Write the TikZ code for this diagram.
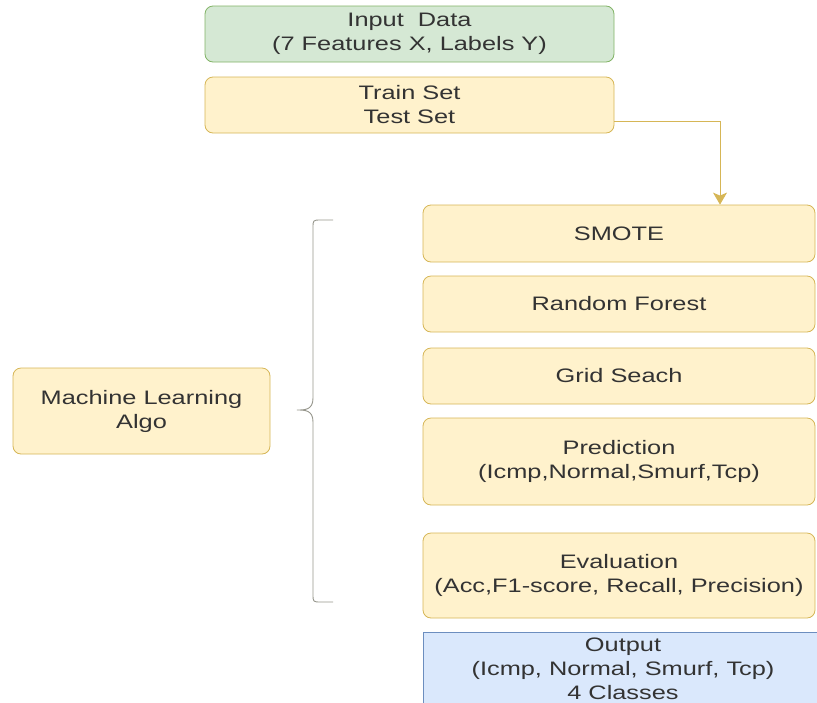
\documentclass[tikz,border=0pt]{standalone}
\usepackage{fontspec}
\setmainfont[FakeStretch=1.3]{Liberation Sans}
\usepackage{tikz}
\usetikzlibrary{arrows.meta, positioning}

\begin{document}
\begin{tikzpicture}[x=1pt, y=-1pt,
    box/.style={draw=yellowline, fill=yellowfill, rounded corners=8pt, line width=0.8pt,
        align=center, text=textcolor, inner sep=2pt, font=\fontsize{19.5}{24}\selectfont},
    greenbox/.style={box, draw=greenline, fill=greenfill},
    bluebox/.style={box, draw=blueline, fill=bluefill, rounded corners=0pt},
    flow/.style={draw=yellowline, line width=0.9pt, -{Stealth[length=12pt, width=14pt, inset=3pt]}},
    bracket/.style={draw=bracecolor, line width=0.9pt}]
% Define colors
\definecolor{greenfill}{RGB}{213, 232, 212}
\definecolor{greenline}{RGB}{130, 179, 102}
\definecolor{yellowfill}{RGB}{255, 242, 204}
\definecolor{yellowline}{RGB}{214, 182, 86}
\definecolor{bluefill}{RGB}{218, 232, 252}
\definecolor{blueline}{RGB}{108, 142, 191}
\definecolor{bracecolor}{RGB}{150, 150, 140}
\definecolor{textcolor}{RGB}{51, 51, 51}

\useasboundingbox (0,0) rectangle (817,702);

% Data boxes
\node[greenbox, minimum width=409pt, minimum height=56pt] (input) at (409.5,34) {Input~~Data\\(7 Features X, Labels Y)};
\node[box, minimum width=409pt, minimum height=56pt] (train) at (409.5,105) {Train Set\\Test Set};

% Left box
\node[box, minimum width=257pt, minimum height=86pt] (mlalgo) at (141.5,411) {Machine Learning\\Algo};

% Pipeline column
\node[box, minimum width=392pt, minimum height=57pt] (smote) at (619,233.5) {SMOTE};
\node[box, minimum width=392pt, minimum height=56pt] (forest) at (619,304) {Random Forest};
\node[box, minimum width=392pt, minimum height=56pt] (grid) at (619,376) {Grid Seach};
\node[box, minimum width=392pt, minimum height=87pt] (predict) at (619,461.5) {Prediction\\(Icmp,Normal,Smurf,Tcp)};
\node[box, minimum width=392pt, minimum height=85pt] (evaluate) at (619,575.5) {Evaluation\\(Acc,F1-score, Recall, Precision)};
\node[bluebox, minimum width=400pt, minimum height=73pt] (output) at (623,668.5) {Output\\(Icmp, Normal, Smurf, Tcp)\\4 Classes};

% Arrow
\draw[flow] ([yshift=-16pt]train.east) -| ([xshift=101pt]smote.north);

% Curly bracket
\draw[bracket] (333,220) -- (321,220) .. controls (313,220) .. (313,228) -- (313,398)
    .. controls (313,410) and (305,410) .. (297,410)
    .. controls (305,410) and (313,410) .. (313,422) -- (313,594)
    .. controls (313,602) .. (321,602) -- (333,602);
\end{tikzpicture}
\end{document}
